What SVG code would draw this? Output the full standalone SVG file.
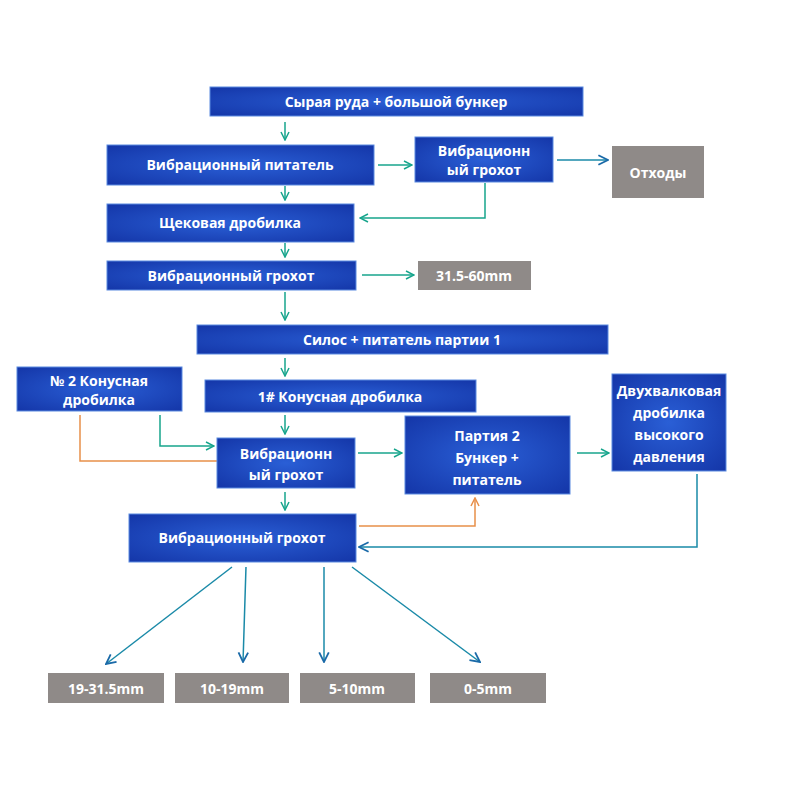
<svg xmlns="http://www.w3.org/2000/svg" width="800" height="800" viewBox="0 0 800 800">
<defs>
<radialGradient id="bg" cx="50%" cy="50%" r="70%"><stop offset="0" stop-color="#2a5fd6"/><stop offset="1" stop-color="#1436a8"/></radialGradient>
<marker id="at" viewBox="0 0 10 10" refX="9" refY="5" markerWidth="10" markerHeight="10" orient="auto" markerUnits="userSpaceOnUse"><path d="M1,1 L9,5 L1,9" fill="none" stroke="#17a58c" stroke-width="1.5"/></marker>
<marker id="ab" viewBox="0 0 10 10" refX="9" refY="5" markerWidth="12" markerHeight="12" orient="auto" markerUnits="userSpaceOnUse"><path d="M1,1 L9,5 L1,9" fill="none" stroke="#1a6aa8" stroke-width="1.5"/></marker>
<marker id="ao" viewBox="0 0 10 10" refX="9" refY="5" markerWidth="10" markerHeight="10" orient="auto" markerUnits="userSpaceOnUse"><path d="M1,1 L9,5 L1,9" fill="none" stroke="#e8904a" stroke-width="1.5"/></marker>
</defs>
<style>
.b{fill:url(#bg);stroke:#5a8ae0;stroke-width:1}
.g{fill:#8f8a88}
text{font-family:"Open Sans","DejaVu Sans",sans-serif;font-weight:bold;font-size:14px;fill:#fff;text-anchor:middle}
.t{fill:none;stroke:#17a58c;stroke-width:1.5;marker-end:url(#at)}
.u{fill:none;stroke:#1a8aa8;stroke-width:1.5;marker-end:url(#ab)}
.o{fill:none;stroke:#e8904a;stroke-width:1.5}
</style>
<rect width="800" height="800" fill="#fff"/>
<g id="connectors">
<path class="t" d="M285,122V140"/>
<path class="t" d="M378,165H412"/>
<path class="u" d="M557,160H608"/>
<path class="t" d="M485,183V218H360"/>
<path class="t" d="M285,186V200"/>
<path class="t" d="M285,243V257"/>
<path class="t" d="M362,275H414"/>
<path class="t" d="M285,292V320"/>
<path class="t" d="M285,358V376"/>
<path class="t" d="M285,415V434"/>
<path class="t" d="M160,415V446H214"/>
<path class="o" d="M80,415V461H217"/>
<path class="t" d="M358,453H402"/>
<path class="t" d="M577,453H609"/>
<path class="t" d="M285,492V510"/>
<path class="o" d="M359,526H475V498" marker-end="url(#ao)"/>
<path class="u" d="M697,474V547H359"/>
<path class="u" d="M232,567L106,664"/>
<path class="u" d="M246,567L243,662"/>
<path class="u" d="M324,567V662"/>
<path class="u" d="M352,567L480,662"/>
</g>
<g id="n1"><rect class="b" x="210" y="87" width="373" height="29"/><text x="396" y="107">Сырая руда + большой бункер</text></g>
<g id="n2"><rect class="b" x="107" y="145" width="267" height="40"/><text x="240" y="170">Вибрационный питатель</text></g>
<g id="n3"><rect class="b" x="415" y="137" width="138" height="45"/><text x="484" y="156">Вибрационн</text><text x="484" y="175">ый грохот</text></g>
<g id="n4"><rect class="g" x="612" y="146" width="92" height="52"/><text x="658" y="178">Отходы</text></g>
<g id="n5"><rect class="b" x="107" y="204" width="247" height="38"/><text x="230" y="228">Щековая дробилка</text></g>
<g id="n6"><rect class="b" x="107" y="261" width="249" height="29"/><text x="231" y="281">Вибрационный грохот</text></g>
<g id="n7"><rect class="g" x="418" y="261" width="113" height="29"/><text x="474" y="281">31.5-60mm</text></g>
<g id="n8"><rect class="b" x="197" y="325" width="411" height="29"/><text x="402" y="345">Силос + питатель партии 1</text></g>
<g id="n9"><rect class="b" x="17" y="367" width="165" height="44"/><text x="99" y="386">№ 2 Конусная</text><text x="99" y="405">дробилка</text></g>
<g id="n10"><rect class="b" x="205" y="380" width="271" height="32"/><text x="340" y="402">1# Конусная дробилка</text></g>
<g id="n11"><rect class="b" x="217" y="438" width="138" height="50"/><text x="286" y="459">Вибрационн</text><text x="286" y="480">ый грохот</text></g>
<g id="n12"><rect class="b" x="405" y="416" width="165" height="78"/><text x="487" y="441">Партия 2</text><text x="487" y="463">Бункер +</text><text x="487" y="485">питатель</text></g>
<g id="n13"><rect class="b" x="612" y="374" width="114" height="97"/><text x="669" y="396">Двухвалковая</text><text x="669" y="418">дробилка</text><text x="669" y="440">высокого</text><text x="669" y="462">давления</text></g>
<g id="n14"><rect class="b" x="129" y="514" width="227" height="48"/><text x="242" y="543">Вибрационный грохот</text></g>
<g id="n15"><rect class="g" x="48" y="673" width="116" height="30"/><text x="106" y="694">19-31.5mm</text></g>
<g id="n16"><rect class="g" x="175" y="673" width="114" height="30"/><text x="232" y="694">10-19mm</text></g>
<g id="n17"><rect class="g" x="300" y="673" width="115" height="30"/><text x="357" y="694">5-10mm</text></g>
<g id="n18"><rect class="g" x="430" y="673" width="116" height="30"/><text x="488" y="694">0-5mm</text></g>
</svg>
